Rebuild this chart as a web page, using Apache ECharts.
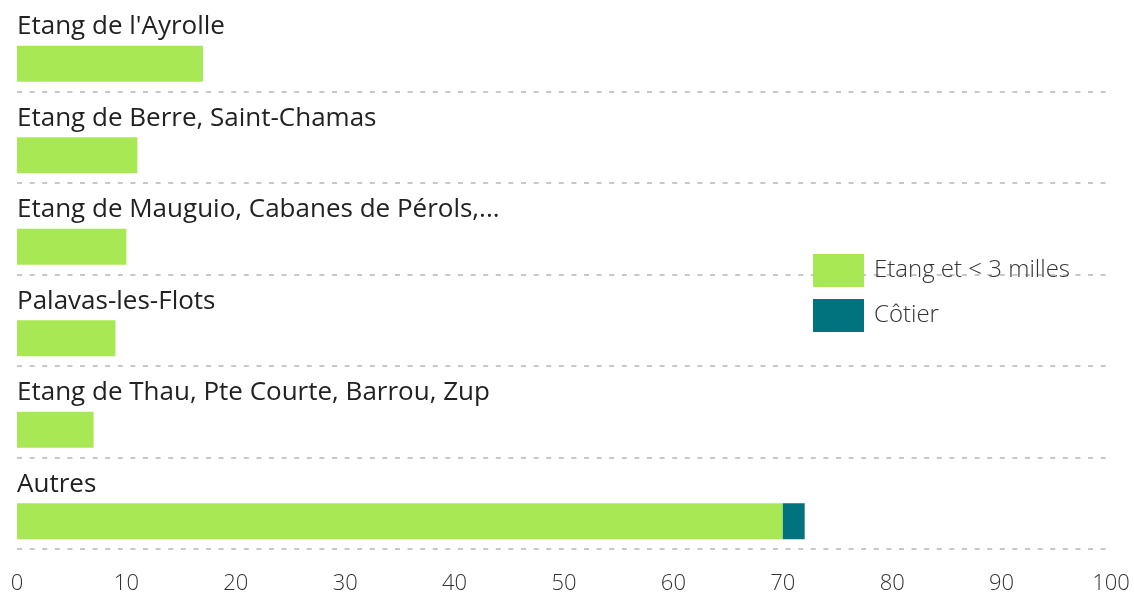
<!DOCTYPE html>
<html>
<head>
<meta charset="utf-8">
<script src="https://cdn.jsdelivr.net/npm/echarts@6/dist/echarts.min.js"></script>
<style>html,body{margin:0;padding:0;background:#fff}#c{width:1134px;height:598px}</style>
</head>
<body>
<div id="c"></div>
<script>
var categories = ["Etang de l'Ayrolle", "Etang de Berre, Saint-Chamas", "Etang de Mauguio, Cabanes de Pérols,...", "Palavas-les-Flots", "Etang de Thau, Pte Courte, Barrou, Zup", "Autres"];
var etang = [17, 11, 10, 9, 7, 70];
var cotier = [0, 0, 0, 0, 0, 2];
var spacer = [0, 0, 0, 0, 0, 0];
var seriesNames = ['Etang et < 3 milles', 'Côtier'];
var xTicks = [0, 10, 20, 30, 40, 50, 60, 70, 80, 90, 100];

var chart = echarts.init(document.getElementById('c'), null, {renderer: 'canvas'});
chart.setOption({
  animation: false,
  backgroundColor: '#fff',
  textStyle: {fontFamily: 'Open Sans'},
  grid: {left: 17, right: 23, top: -3, bottom: 49, containLabel: false},
  legend: {
    data: seriesNames,
    orient: 'vertical',
    left: 813, top: 254, padding: 0,
    itemWidth: 51, itemHeight: 33, itemGap: 12,
    icon: 'rect',
    textStyle: {fontSize: 24, color: '#333', fontWeight: 300, padding: [0, 0, 0, 5]}
  },
  xAxis: {
    type: 'value', min: 0, max: 100, interval: 10,
    axisLine: {show: false}, axisTick: {show: false}, splitLine: {show: false},
    axisLabel: {fontSize: 22, color: '#333', fontWeight: 300, margin: 24,
      formatter: function (v) { return xTicks.indexOf(v) >= 0 ? String(v) : ''; }}
  },
  yAxis: {
    type: 'category', data: categories, inverse: true,
    axisLine: {show: false}, axisTick: {show: false},
    splitLine: {show: true, showMinLine: false, interval: 0, lineStyle: {color: '#c8c8c8', width: 2, type: [5, 7.6]}},
    axisLabel: {inside: true, align: 'left', margin: 0, interval: 0,
      formatter: function (v) { return '{t|' + v + '}\n{b| }'; },
      rich: {t: {fontSize: 26, color: '#222', lineHeight: 36, fontFamily: 'Open Sans'},
             b: {fontSize: 10, lineHeight: 38}}}
  },
  series: [
    {name: 'spacer', type: 'bar', data: spacer, barWidth: 36, barGap: '0%', silent: true,
      itemStyle: {color: 'rgba(0,0,0,0)'}},
    {name: seriesNames[0], type: 'bar', stack: 'a', data: etang, barWidth: 36,
      itemStyle: {color: '#a8e854'}},
    {name: seriesNames[1], type: 'bar', stack: 'a', data: cotier, barWidth: 36,
      itemStyle: {color: '#00737f'}}
  ]
});
</script>
</body>
</html>
